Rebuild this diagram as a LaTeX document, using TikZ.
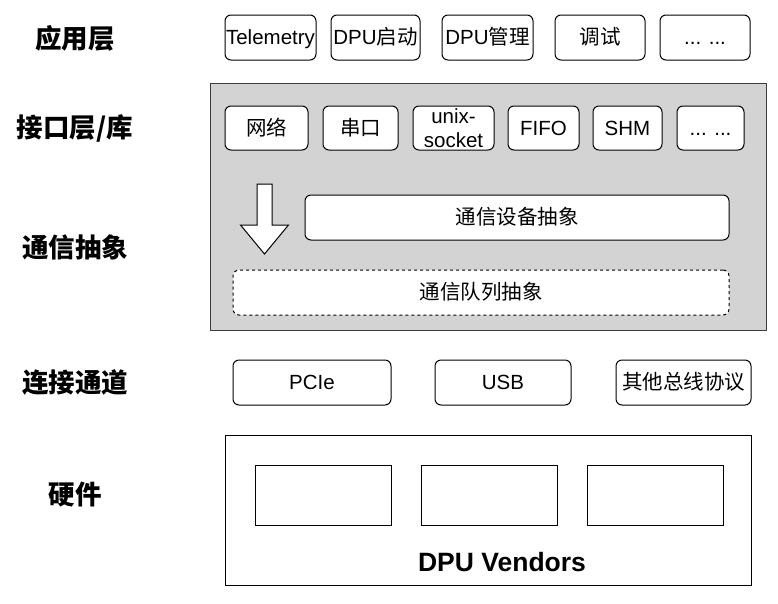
\documentclass[tikz,border=0pt]{standalone}
\usepackage{fontspec}
\setmainfont{Liberation Sans}
\newfontfamily\cjk{Noto Sans CJK SC}
\definecolor{panelgray}{RGB}{211,211,211}
\definecolor{paneledge}{RGB}{60,60,60}
\tikzset{
  box/.style={draw=black, line width=1pt, rounded corners=6pt, fill=white, inner sep=0pt,
    font=\fontsize{20.5}{24}\selectfont, align=center},
  box1/.style={box, text height=14.5pt, text depth=0pt},
  qbox/.style={box1, dash pattern=on 3pt off 3pt},
  plainbox/.style={draw=black, line width=1pt, fill=white, inner sep=0pt},
  lbl/.style={font=\cjk\bfseries\fontsize{26.5}{30}\selectfont},
  panel/.style={draw=paneledge, line width=1pt, fill=panelgray, inner sep=0pt},
  bigarrow/.style={draw=black, line width=1pt, fill=white}
}
\begin{document}
\begin{tikzpicture}[x=1pt,y=-1pt]
\useasboundingbox (0,0) rectangle (778,603);
% left labels
\node[lbl] (l1) at (75,38) {应用层};
\node[lbl] (l2) at (75,128) {接口层/库};
\node[lbl] (l3) at (75,247) {通信抽象};
\node[lbl] (l4) at (75,382) {连接通道};
\node[lbl] (l5) at (75,494) {硬件};
% application layer
\node[box1, minimum width=91, minimum height=45] (tel) at (270.5,37.5) {Telemetry};
\node[box1, minimum width=89, minimum height=45] (dpus) at (375.5,37.5) {DPU{\cjk 启动}};
\node[box1, minimum width=91, minimum height=45] (dpum) at (487.5,37.5) {DPU{\cjk 管理}};
\node[box1, minimum width=90, minimum height=45] (dbg) at (600,37.5) {\cjk 调试};
\node[box1, minimum width=90, minimum height=45] (more1) at (705,37.5) {... ...};
% interface panel
\node[panel, minimum width=556, minimum height=247] (pan) at (488,206.5) {};
\node[box1, minimum width=83, minimum height=44] (net) at (266.5,128) {\cjk 网络};
\node[box1, minimum width=75, minimum height=44] (ser) at (360.5,128) {\cjk 串口};
\node[box, minimum width=81, minimum height=44] (unix) at (453.5,128) {unix-\\socket};
\node[box1, minimum width=71, minimum height=44] (fifo) at (543.5,128) {FIFO};
\node[box1, minimum width=69, minimum height=44] (shm) at (627.5,128) {SHM};
\node[box1, minimum width=67, minimum height=44] (more2) at (710.5,128) {... ...};
\node[box1, minimum width=424, minimum height=45] (dev) at (517,217.5) {\cjk 通信设备抽象};
\node[qbox, minimum width=496, minimum height=45] (que) at (481,292.5) {\cjk 通信队列抽象};
\draw[bigarrow] (257,184) -- (272,184) -- (272,225) -- (288.5,225) -- (264.5,254) -- (240.5,225) -- (257,225) -- cycle;
% channels
\node[box1, minimum width=158, minimum height=45] (pcie) at (312,382.5) {PCIe};
\node[box1, minimum width=136, minimum height=45] (usb) at (503,382.5) {USB};
\node[box1, minimum width=135, minimum height=45] (oth) at (683.5,382.5) {\cjk 其他总线协议};
% hardware
\node[plainbox, minimum width=526, minimum height=150] (hw) at (488,510) {};
\node[plainbox, minimum width=136, minimum height=60] (v1) at (323,495) {};
\node[plainbox, minimum width=136, minimum height=60] (v2) at (489,495) {};
\node[plainbox, minimum width=136, minimum height=60] (v3) at (655,495) {};
\node[font=\bfseries\fontsize{26.5}{30}\selectfont] (vend) at (502,562) {DPU Vendors};
\end{tikzpicture}
\end{document}
